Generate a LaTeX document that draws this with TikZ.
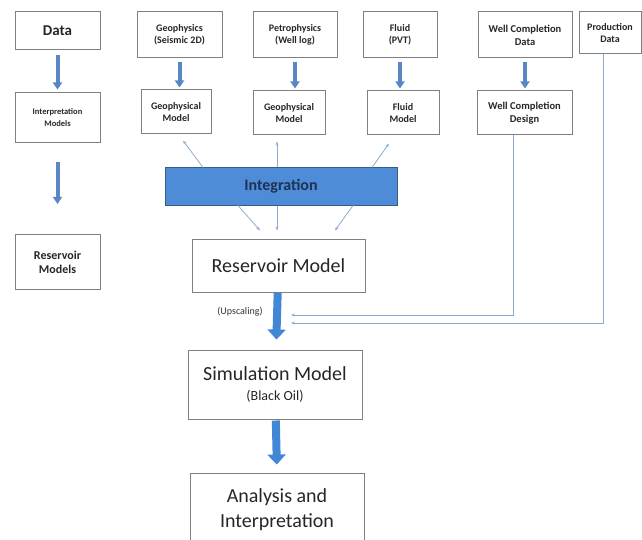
\documentclass[tikz,border=0pt]{standalone}
\usepackage{fontspec}
\setmainfont{Carlito}
\usetikzlibrary{arrows.meta}
\definecolor{boxgray}{RGB}{128,128,128}
\definecolor{fatblue}{RGB}{88,135,195}
\definecolor{bigblue}{RGB}{66,135,214}
\definecolor{barblue}{RGB}{78,140,216}
\definecolor{barline}{RGB}{60,90,130}
\definecolor{thinblue}{RGB}{140,170,205}
\definecolor{navy}{RGB}{30,50,85}

\begin{document}
\begin{tikzpicture}[x=1pt,y=-1pt,
      box/.style={draw=boxgray,line width=1pt,align=center,inner sep=1pt,text=black!85},
      smallbox/.style={box,font=\bfseries\fontsize{10}{12}\selectfont},
      bigbox/.style={box,font=\fontsize{20}{25}\selectfont},
      fat/.style={-{Triangle[width=9pt,length=7pt]},line width=4pt,draw=fatblue},
      bigfat/.style={-{Triangle[width=18pt,length=10pt]},line width=8pt,draw=bigblue},
      thinarr/.style={-{Stealth[length=4pt,width=3pt]},line width=0.8pt,draw=thinblue},
      feed/.style={-{Stealth[length=4pt,width=3pt]},line width=0.8pt,draw=thinblue}]
    \useasboundingbox (0,0) rectangle (642,540);
    % left column
    \node[box,font=\bfseries\fontsize{15}{17}\selectfont,minimum width=85,minimum height=38] (data) at (57.5,31) {Data};
    \node[smallbox,font=\bfseries\fontsize{8.5}{12}\selectfont,minimum width=85,minimum height=50] (interp) at (57.5,118) {Interpretation\\Models};
    \node[smallbox,font=\bfseries\fontsize{12}{14}\selectfont,minimum width=85,minimum height=55] (resmods) at (57.5,262) {Reservoir\\Models};
    % data sources
    \node[smallbox,minimum width=85,minimum height=46] (geo) at (179.5,35) {Geophysics\\(Seismic 2D)};
    \node[smallbox,minimum width=84,minimum height=46] (petro) at (295,35) {Petrophysics\\(Well log)};
    \node[smallbox,minimum width=74,minimum height=46] (fluid) at (400,35) {Fluid\\(PVT)};
    \node[smallbox,font=\bfseries\fontsize{10.5}{13}\selectfont,minimum width=94,minimum height=46] (wcdata) at (525,35) {Well Completion\\Data};
    \node[smallbox,minimum width=62,minimum height=42] (prod) at (610,33) {Production\\Data};
    % models
    \node[smallbox,minimum width=70,minimum height=44] (gm1) at (176,112) {Geophysical\\Model};
    \node[smallbox,minimum width=72,minimum height=44] (gm2) at (289,113) {Geophysical\\Model};
    \node[smallbox,minimum width=72,minimum height=44] (fm) at (403,113) {Fluid\\Model};
    \node[smallbox,font=\bfseries\fontsize{10.5}{13}\selectfont,minimum width=95,minimum height=44] (wcd) at (524.5,113) {Well Completion\\Design};
    % integration and workflow
    \node[draw=barline,line width=1pt,fill=barblue,text=navy,font=\bfseries\fontsize{16}{18}\selectfont,
          minimum width=232,minimum height=37] (integ) at (281,186.5) {Integration};
    \node[bigbox,minimum width=173,minimum height=53] (resmod) at (278.5,265.5) {Reservoir Model};
    \node[box,minimum width=174,minimum height=69,font=\fontsize{20}{25}\selectfont] (sim) at (275,384.5)
      {Simulation Model\\[-5pt]{\fontsize{14}{16}\selectfont (Black Oil)}};
    \node[bigbox,minimum width=174,minimum height=74] (ana) at (277,510) {Analysis and\\Interpretation};
    \node[font=\fontsize{10}{12}\selectfont,text=black!80] (upsc) at (240,312) {(Upscaling)};
    \coordinate (upin1) at (291,315);
    \coordinate (upin2) at (291,323);
    % thick arrows
    \draw[fat,shorten <=5pt,shorten >=3pt] (data) -- (interp);
    \draw[fat,shorten <=19pt,shorten >=30pt] (interp) -- (resmods);
    \draw[fat,shorten <=4pt,shorten >=2pt] (geo) -- (gm1.north -| geo);
    \draw[fat,shorten <=4pt,shorten >=2pt] (petro) -- (gm2.north -| petro);
    \draw[fat,shorten <=4pt,shorten >=2pt] (fluid) -- (fm.north -| fluid);
    \draw[fat,shorten <=4pt,shorten >=2pt] (wcdata) -- (wcd.north -| wcdata);
    \draw[bigfat,shorten >=10pt] (resmod) -- (sim);
    \draw[bigfat,shorten <=1pt,shorten >=8pt] (sim) -- (ana.north);
    % thin arrows
    \draw[thinarr] ([xshift=-78pt]integ.north) -- ([xshift=7pt,yshift=-6pt]gm1.south);
    \draw[thinarr] ([xshift=-4pt]integ.north) -- ([xshift=-12pt,yshift=-6pt]gm2.south);
    \draw[thinarr] ([xshift=91pt]integ.north) -- ([xshift=-14pt,yshift=-8pt]fm.south);
    \draw[thinarr] ([xshift=-43pt]integ.south) -- ([xshift=-18.5pt,yshift=8pt]resmod.north);
    \draw[thinarr] ([xshift=-4pt]integ.south) -- ([xshift=-1.5pt,yshift=8pt]resmod.north);
    \draw[thinarr] ([xshift=72pt]integ.south) -- ([xshift=56.5pt,yshift=8pt]resmod.north);
    % feedback lines
    \draw[feed] ([xshift=-11.5pt]wcd.south) |- (upin1);
    \draw[feed] ([xshift=-7pt]prod.south) |- (upin2);
  \end{tikzpicture}
\end{document}
